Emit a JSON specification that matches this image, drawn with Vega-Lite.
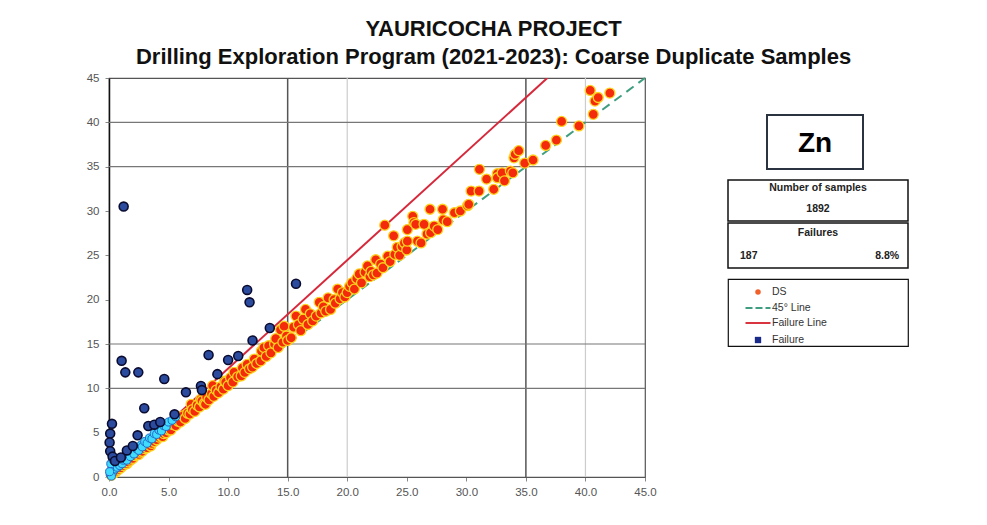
{
  "$schema": "https://vega.github.io/schema/vega-lite/v6.json",
  "background": "white",
  "padding": {"left": 78, "top": 18, "right": 0, "bottom": 0},
  "title": {
    "text": ["YAURICOCHA PROJECT", "Drilling Exploration Program (2021-2023): Coarse Duplicate Samples"],
    "anchor": "middle",
    "frame": "bounds",
    "font": "Liberation Sans",
    "fontSize": 22,
    "fontWeight": "bold",
    "color": "#111111",
    "lineHeight": 28,
    "offset": 2
  },
  "config": {
    "font": "Liberation Sans",
    "concat": {"spacing": 0}
  },
  "datasets": {
    "samples": [
      {"original":0.2,"duplicate":0.2,"status":"DS"},{"original":0.4,"duplicate":0.45,"status":"DS"},{"original":0.5,"duplicate":0.5,"status":"DS"},{"original":0.6,"duplicate":0.65,"status":"DS"},{"original":0.8,"duplicate":0.85,"status":"DS"},{"original":1.0,"duplicate":1.05,"status":"DS"},{"original":1.2,"duplicate":1.3,"status":"DS"},{"original":1.4,"duplicate":1.5,"status":"DS"},{"original":1.5,"duplicate":1.5,"status":"DS"},{"original":1.6,"duplicate":1.7,"status":"DS"},{"original":1.8,"duplicate":1.9,"status":"DS"},{"original":2.0,"duplicate":2.1,"status":"DS"},{"original":2.2,"duplicate":2.4,"status":"DS"},{"original":2.4,"duplicate":2.5,"status":"DS"},{"original":2.5,"duplicate":2.55,"status":"DS"},{"original":2.6,"duplicate":2.8,"status":"DS"},{"original":2.8,"duplicate":2.9,"status":"DS"},{"original":3.0,"duplicate":3.2,"status":"DS"},{"original":3.2,"duplicate":3.3,"status":"DS"},{"original":3.4,"duplicate":3.6,"status":"DS"},{"original":3.5,"duplicate":3.5,"status":"DS"},{"original":3.6,"duplicate":3.8,"status":"DS"},{"original":3.8,"duplicate":4.0,"status":"DS"},{"original":4.0,"duplicate":4.2,"status":"DS"},{"original":4.2,"duplicate":4.5,"status":"DS"},{"original":4.4,"duplicate":4.6,"status":"DS"},{"original":4.5,"duplicate":4.55,"status":"DS"},{"original":4.6,"duplicate":4.9,"status":"DS"},{"original":4.8,"duplicate":5.0,"status":"DS"},{"original":5.0,"duplicate":5.3,"status":"DS"},
      {"original":5.2,"duplicate":5.3,"status":"DS"},{"original":5.4,"duplicate":5.9,"status":"DS"},{"original":5.6,"duplicate":5.8,"status":"DS"},{"original":5.8,"duplicate":6.3,"status":"DS"},{"original":6.0,"duplicate":6.2,"status":"DS"},{"original":6.2,"duplicate":6.9,"status":"DS"},{"original":6.4,"duplicate":6.6,"status":"DS"},{"original":6.6,"duplicate":7.2,"status":"DS"},{"original":6.8,"duplicate":7.1,"status":"DS"},{"original":6.9,"duplicate":8.2,"status":"DS"},{"original":7.0,"duplicate":7.6,"status":"DS"},{"original":7.2,"duplicate":7.4,"status":"DS"},{"original":7.4,"duplicate":8.1,"status":"DS"},{"original":7.6,"duplicate":7.9,"status":"DS"},{"original":7.7,"duplicate":8.75,"status":"DS"},{"original":7.8,"duplicate":8.6,"status":"DS"},{"original":8.0,"duplicate":8.3,"status":"DS"},{"original":8.1,"duplicate":8.2,"status":"DS"},{"original":8.2,"duplicate":9.0,"status":"DS"},{"original":8.4,"duplicate":8.7,"status":"DS"},{"original":8.6,"duplicate":9.4,"status":"DS"},{"original":8.7,"duplicate":10.3,"status":"DS"},{"original":8.8,"duplicate":9.1,"status":"DS"},{"original":9.0,"duplicate":9.8,"status":"DS"},{"original":9.2,"duplicate":9.5,"status":"DS"},{"original":9.4,"duplicate":10.2,"status":"DS"},{"original":9.6,"duplicate":9.9,"status":"DS"},{"original":9.7,"duplicate":10.8,"status":"DS"},{"original":9.8,"duplicate":10.7,"status":"DS"},{"original":10.0,"duplicate":10.3,"status":"DS"},
      {"original":10.2,"duplicate":11.2,"status":"DS"},{"original":10.4,"duplicate":10.7,"status":"DS"},{"original":10.5,"duplicate":11.8,"status":"DS"},{"original":10.8,"duplicate":11.3,"status":"DS"},{"original":11.1,"duplicate":11.4,"status":"DS"},{"original":11.2,"duplicate":12.3,"status":"DS"},{"original":11.4,"duplicate":11.8,"status":"DS"},{"original":11.6,"duplicate":12.7,"status":"DS"},{"original":11.8,"duplicate":12.2,"status":"DS"},{"original":12.05,"duplicate":12.4,"status":"DS"},{"original":12.2,"duplicate":13.3,"status":"DS"},{"original":12.4,"duplicate":12.8,"status":"DS"},{"original":12.75,"duplicate":13.1,"status":"DS"},{"original":12.8,"duplicate":14.2,"status":"DS"},{"original":13.0,"duplicate":14.6,"status":"DS"},{"original":13.2,"duplicate":13.6,"status":"DS"},{"original":13.4,"duplicate":14.8,"status":"DS"},{"original":13.6,"duplicate":14.0,"status":"DS"},{"original":13.9,"duplicate":15.0,"status":"DS"},{"original":14.0,"duplicate":15.6,"status":"DS"},{"original":14.2,"duplicate":14.6,"status":"DS"},{"original":14.4,"duplicate":16.6,"status":"DS"},{"original":14.6,"duplicate":15.2,"status":"DS"},{"original":14.7,"duplicate":17.0,"status":"DS"},{"original":14.9,"duplicate":15.9,"status":"DS"},{"original":15.0,"duplicate":15.4,"status":"DS"},
      {"original":15.3,"duplicate":15.7,"status":"DS"},{"original":15.5,"duplicate":16.9,"status":"DS"},{"original":15.7,"duplicate":18.15,"status":"DS"},{"original":15.9,"duplicate":17.2,"status":"DS"},{"original":16.1,"duplicate":16.5,"status":"DS"},{"original":16.3,"duplicate":17.8,"status":"DS"},{"original":16.5,"duplicate":18.9,"status":"DS"},{"original":16.7,"duplicate":17.2,"status":"DS"},{"original":16.9,"duplicate":18.4,"status":"DS"},{"original":17.1,"duplicate":17.6,"status":"DS"},{"original":17.4,"duplicate":18.15,"status":"DS"},{"original":17.65,"duplicate":19.7,"status":"DS"},{"original":17.8,"duplicate":18.5,"status":"DS"},{"original":18.0,"duplicate":19.2,"status":"DS"},{"original":18.2,"duplicate":18.7,"status":"DS"},{"original":18.4,"duplicate":20.2,"status":"DS"},{"original":18.6,"duplicate":18.9,"status":"DS"},{"original":18.9,"duplicate":20.0,"status":"DS"},{"original":19.0,"duplicate":19.6,"status":"DS"},{"original":19.2,"duplicate":21.2,"status":"DS"},{"original":19.4,"duplicate":20.1,"status":"DS"},{"original":19.6,"duplicate":20.8,"status":"DS"},{"original":19.8,"duplicate":20.3,"status":"DS"},{"original":20.0,"duplicate":20.8,"status":"DS"},{"original":20.2,"duplicate":21.5,"status":"DS"},
      {"original":20.4,"duplicate":21.9,"status":"DS"},{"original":20.6,"duplicate":21.2,"status":"DS"},{"original":20.8,"duplicate":22.4,"status":"DS"},{"original":21.0,"duplicate":22.9,"status":"DS"},{"original":21.2,"duplicate":21.9,"status":"DS"},{"original":21.5,"duplicate":23.1,"status":"DS"},{"original":21.7,"duplicate":23.8,"status":"DS"},{"original":21.9,"duplicate":22.6,"status":"DS"},{"original":22.0,"duplicate":23.2,"status":"DS"},{"original":22.2,"duplicate":22.8,"status":"DS"},{"original":22.4,"duplicate":24.5,"status":"DS"},{"original":22.5,"duplicate":23.0,"status":"DS"},{"original":22.8,"duplicate":24.0,"status":"DS"},{"original":23.0,"duplicate":23.6,"status":"DS"},{"original":23.15,"duplicate":28.4,"status":"DS"},{"original":23.4,"duplicate":24.9,"status":"DS"},{"original":23.6,"duplicate":24.3,"status":"DS"},{"original":23.9,"duplicate":27.2,"status":"DS"},{"original":24.0,"duplicate":25.1,"status":"DS"},{"original":24.2,"duplicate":25.9,"status":"DS"},{"original":24.4,"duplicate":25.0,"status":"DS"},{"original":24.6,"duplicate":26.0,"status":"DS"},{"original":24.8,"duplicate":26.4,"status":"DS"},{"original":25.0,"duplicate":25.6,"status":"DS"},
      {"original":25.05,"duplicate":27.9,"status":"DS"},{"original":25.05,"duplicate":26.6,"status":"DS"},{"original":25.5,"duplicate":29.4,"status":"DS"},{"original":25.6,"duplicate":28.7,"status":"DS"},{"original":25.75,"duplicate":28.5,"status":"DS"},{"original":25.9,"duplicate":26.6,"status":"DS"},{"original":26.2,"duplicate":26.4,"status":"DS"},{"original":26.45,"duplicate":28.5,"status":"DS"},{"original":26.7,"duplicate":27.4,"status":"DS"},{"original":26.95,"duplicate":30.2,"status":"DS"},{"original":27.0,"duplicate":27.55,"status":"DS"},{"original":27.3,"duplicate":28.3,"status":"DS"},{"original":27.6,"duplicate":27.9,"status":"DS"},{"original":28.0,"duplicate":30.2,"status":"DS"},{"original":28.06,"duplicate":29.0,"status":"DS"},{"original":28.4,"duplicate":28.8,"status":"DS"},{"original":29.0,"duplicate":29.8,"status":"DS"},{"original":29.5,"duplicate":30.0,"status":"DS"},{"original":30.1,"duplicate":30.6,"status":"DS"},
      {"original":30.2,"duplicate":30.75,"status":"DS"},{"original":30.4,"duplicate":32.25,"status":"DS"},{"original":31.07,"duplicate":32.25,"status":"DS"},{"original":31.1,"duplicate":34.7,"status":"DS"},{"original":31.7,"duplicate":33.6,"status":"DS"},{"original":32.3,"duplicate":32.45,"status":"DS"},{"original":32.6,"duplicate":34.2,"status":"DS"},{"original":32.6,"duplicate":33.75,"status":"DS"},{"original":33.0,"duplicate":34.3,"status":"DS"},{"original":33.2,"duplicate":33.4,"status":"DS"},{"original":33.7,"duplicate":34.5,"status":"DS"},{"original":33.9,"duplicate":34.3,"status":"DS"},{"original":34.0,"duplicate":36.0,"status":"DS"},{"original":34.1,"duplicate":36.4,"status":"DS"},{"original":34.4,"duplicate":36.8,"status":"DS"},{"original":34.9,"duplicate":35.4,"status":"DS"},
      {"original":35.6,"duplicate":35.75,"status":"DS"},{"original":36.66,"duplicate":37.4,"status":"DS"},{"original":37.56,"duplicate":38.0,"status":"DS"},{"original":38.0,"duplicate":40.1,"status":"DS"},{"original":39.45,"duplicate":39.6,"status":"DS"},{"original":40.66,"duplicate":40.9,"status":"DS"},{"original":40.8,"duplicate":42.4,"status":"DS"},{"original":41.07,"duplicate":42.8,"status":"DS"},{"original":40.4,"duplicate":43.6,"status":"DS"},{"original":42.05,"duplicate":43.3,"status":"DS"},
      {"original":0.1,"duplicate":0.3,"status":"Failure (low)"},{"original":0.2,"duplicate":0.8,"status":"Failure (low)"},{"original":0.3,"duplicate":0.5,"status":"Failure (low)"},{"original":0.4,"duplicate":1.2,"status":"Failure (low)"},{"original":0.5,"duplicate":0.9,"status":"Failure (low)"},{"original":0.6,"duplicate":1.5,"status":"Failure (low)"},{"original":0.7,"duplicate":1.1,"status":"Failure (low)"},{"original":0.8,"duplicate":1.8,"status":"Failure (low)"},{"original":0.9,"duplicate":1.3,"status":"Failure (low)"},{"original":1.0,"duplicate":2.0,"status":"Failure (low)"},{"original":1.1,"duplicate":1.5,"status":"Failure (low)"},{"original":1.2,"duplicate":1.9,"status":"Failure (low)"},{"original":1.4,"duplicate":2.3,"status":"Failure (low)"},{"original":1.5,"duplicate":1.9,"status":"Failure (low)"},{"original":1.7,"duplicate":2.6,"status":"Failure (low)"},{"original":1.8,"duplicate":2.3,"status":"Failure (low)"},{"original":2.0,"duplicate":2.9,"status":"Failure (low)"},{"original":2.1,"duplicate":2.6,"status":"Failure (low)"},{"original":2.3,"duplicate":3.2,"status":"Failure (low)"},{"original":2.5,"duplicate":3.0,"status":"Failure (low)"},{"original":2.7,"duplicate":3.6,"status":"Failure (low)"},{"original":2.8,"duplicate":3.4,"status":"Failure (low)"},{"original":3.0,"duplicate":4.0,"status":"Failure (low)"},{"original":3.2,"duplicate":3.8,"status":"Failure (low)"},{"original":3.4,"duplicate":4.4,"status":"Failure (low)"},{"original":3.6,"duplicate":4.3,"status":"Failure (low)"},{"original":3.8,"duplicate":4.9,"status":"Failure (low)"},{"original":4.0,"duplicate":4.8,"status":"Failure (low)"},{"original":4.2,"duplicate":5.3,"status":"Failure (low)"},{"original":4.4,"duplicate":5.2,"status":"Failure (low)"},{"original":4.6,"duplicate":5.8,"status":"Failure (low)"},{"original":4.8,"duplicate":5.7,"status":"Failure (low)"},{"original":5.0,"duplicate":6.2,"status":"Failure (low)"},{"original":5.3,"duplicate":6.4,"status":"Failure (low)"},{"original":5.6,"duplicate":6.8,"status":"Failure (low)"},{"original":0.15,"duplicate":1.5,"status":"Failure (low)"},{"original":0.3,"duplicate":2.0,"status":"Failure (low)"},{"original":0.2,"duplicate":0.1,"status":"Failure (low)"},{"original":0.05,"duplicate":0.6,"status":"Failure (low)"},
      {"original":1.23,"duplicate":30.5,"status":"Failure"},{"original":1.06,"duplicate":13.1,"status":"Failure"},{"original":1.37,"duplicate":11.8,"status":"Failure"},{"original":2.46,"duplicate":11.8,"status":"Failure"},{"original":4.64,"duplicate":11.05,"status":"Failure"},{"original":2.96,"duplicate":7.75,"status":"Failure"},{"original":0.25,"duplicate":6.0,"status":"Failure"},{"original":0.1,"duplicate":4.9,"status":"Failure"},{"original":0.05,"duplicate":3.9,"status":"Failure"},{"original":0.1,"duplicate":2.9,"status":"Failure"},{"original":0.3,"duplicate":2.3,"status":"Failure"},{"original":2.4,"duplicate":4.7,"status":"Failure"},{"original":3.3,"duplicate":5.75,"status":"Failure"},{"original":5.5,"duplicate":7.07,"status":"Failure"},{"original":6.46,"duplicate":9.55,"status":"Failure"},{"original":7.72,"duplicate":10.26,"status":"Failure"},{"original":7.8,"duplicate":9.8,"status":"Failure"},{"original":8.36,"duplicate":13.76,"status":"Failure"},{"original":9.1,"duplicate":11.6,"status":"Failure"},{"original":10.0,"duplicate":13.2,"status":"Failure"},{"original":10.85,"duplicate":13.65,"status":"Failure"},{"original":11.6,"duplicate":21.1,"status":"Failure"},{"original":11.8,"duplicate":19.7,"status":"Failure"},{"original":12.05,"duplicate":15.4,"status":"Failure"},{"original":13.5,"duplicate":16.8,"status":"Failure"},{"original":15.7,"duplicate":21.8,"status":"Failure"},{"original":1.5,"duplicate":3.0,"status":"Failure"},{"original":2.0,"duplicate":3.5,"status":"Failure"},{"original":3.8,"duplicate":5.9,"status":"Failure"},{"original":4.3,"duplicate":6.2,"status":"Failure"},{"original":0.5,"duplicate":1.8,"status":"Failure"},{"original":1.0,"duplicate":2.2,"status":"Failure"}
    ],
    "reflines": [
      {"line":"45° Line","original":0,"duplicate":0},{"line":"45° Line","original":45,"duplicate":45},
      {"line":"Failure Line","original":0,"duplicate":0},{"line":"Failure Line","original":36.8,"duplicate":45}
    ],
    "stats": [
      {"section":"samples","line":1,"pos":"center","text":"Number of samples"},
      {"section":"samples","line":2,"pos":"center","text":"1892"},
      {"section":"failures","line":1,"pos":"center","text":"Failures"},
      {"section":"failures","line":2,"pos":"left","text":"187"},
      {"section":"failures","line":2,"pos":"right","text":"8.8%"}
    ],
    "legendItems": [
      {"series":"DS"},{"series":"45° Line"},{"series":"Failure Line"},{"series":"Failure"}
    ]
  },
  "hconcat": [
    {
      "width": 536,
      "height": 399,
      "view": {"stroke": "#555555", "strokeWidth": 1.2},
      "layer": [
        {
          "data": {"values": [{"at": 20}, {"at": 40}]},
          "mark": {"type": "rule", "color": "#cccccc", "strokeWidth": 1.2},
          "encoding": {"x": {"field": "at", "type": "quantitative", "scale": {"domain": [0, 45], "nice": false, "zero": false}}}
        },
        {
          "data": {"values": [{"at": 15}, {"at": 35}]},
          "mark": {"type": "rule", "color": "#555555", "strokeWidth": 1.5},
          "encoding": {"x": {"field": "at", "type": "quantitative"}}
        },
        {
          "data": {"values": [{"at": 10}, {"at": 15}, {"at": 35}, {"at": 40}]},
          "mark": {"type": "rule", "color": "#777777", "strokeWidth": 1.2},
          "encoding": {"y": {"field": "at", "type": "quantitative", "scale": {"domain": [0, 45], "nice": false, "zero": false}}}
        },
        {
          "data": {"name": "reflines"},
          "transform": [{"filter": "datum.line === '45° Line'"}],
          "mark": {"type": "line", "color": "#3f9e80", "strokeWidth": 2, "strokeDash": [9, 6]},
          "encoding": {
            "x": {"field": "original", "type": "quantitative"},
            "y": {"field": "duplicate", "type": "quantitative"}
          }
        },
        {
          "data": {"name": "reflines"},
          "transform": [{"filter": "datum.line === 'Failure Line'"}],
          "mark": {"type": "line", "color": "#d6283a", "strokeWidth": 2, "clip": true},
          "encoding": {
            "x": {"field": "original", "type": "quantitative"},
            "y": {"field": "duplicate", "type": "quantitative"}
          }
        },
        {
          "data": {"name": "samples"},
          "transform": [{"filter": "datum.status === 'DS'"}],
          "mark": {"type": "point", "shape": "circle", "filled": true, "size": 100, "fill": "#f42a0c", "stroke": "#ffd21f", "strokeWidth": 1.3, "opacity": 1},
          "encoding": {
            "x": {"field": "original", "type": "quantitative", "title": null,
              "axis": {"values": [0,2.5,5,7.5,10,12.5,15,17.5,20,22.5,25,27.5,30,32.5,35,37.5,40,42.5,45],
                "labelExpr": "datum.value % 5 === 0 ? format(datum.value, '.1f') : ''",
                "grid": false, "domainColor": "#555555", "tickColor": "#888888", "tickSize": 4,
                "labelColor": "#555555", "labelFontSize": 11.5, "labelPadding": 5, "labelFlush": false}},
            "y": {"field": "duplicate", "type": "quantitative", "title": null,
              "axis": {"values": [0,2.5,5,7.5,10,12.5,15,17.5,20,22.5,25,27.5,30,32.5,35,37.5,40,42.5,45],
                "labelExpr": "datum.value % 5 === 0 ? format(datum.value, '.0f') : ''",
                "grid": false, "domainColor": "#111111", "domainWidth": 1.5, "tickColor": "#888888", "tickSize": 4,
                "labelColor": "#555555", "labelFontSize": 11.5, "labelPadding": 6, "labelFlush": false,
                "minExtent": 30, "maxExtent": 30}}
          }
        },
        {
          "data": {"name": "samples"},
          "transform": [{"filter": "datum.status === 'Failure (low)'"}],
          "mark": {"type": "point", "shape": "circle", "filled": true, "size": 65, "fill": "#3fdcff", "stroke": "#2468c8", "strokeWidth": 1, "opacity": 1},
          "encoding": {
            "x": {"field": "original", "type": "quantitative"},
            "y": {"field": "duplicate", "type": "quantitative"}
          }
        },
        {
          "data": {"name": "samples"},
          "transform": [{"filter": "datum.status === 'Failure'"}],
          "mark": {"type": "point", "shape": "circle", "filled": true, "size": 80, "fill": "#2b4c9e", "stroke": "#0b0b30", "strokeWidth": 1.6, "opacity": 1},
          "encoding": {
            "x": {"field": "original", "type": "quantitative"},
            "y": {"field": "duplicate", "type": "quantitative"}
          }
        }
      ]
    },
    {
      "data": {"values": [{}]},
      "width": 70,
      "height": 10,
      "view": {"stroke": null},
      "mark": {"type": "text", "text": ""}
    },
    {
      "vconcat": [
        {
          "data": {"values": [{}]},
          "width": 180,
          "height": 27,
          "view": {"stroke": null},
          "mark": {"type": "text", "text": ""}
        },
        {
          "hconcat": [
            {
              "data": {"values": [{}]},
              "width": 38, "height": 54,
              "view": {"stroke": null},
              "mark": {"type": "text", "text": ""}
            },
            {
              "data": {"values": [{"element": "Zn"}]},
              "width": 96,
              "height": 54,
              "view": {"stroke": "#2b3340", "strokeWidth": 2},
              "mark": {"type": "text", "fontSize": 28, "fontWeight": "bold", "color": "#000000", "baseline": "middle", "dy": 2},
              "encoding": {"text": {"field": "element"}}
            }
          ]
        },
        {
          "vconcat": [
            {
              "data": {"name": "stats"},
              "transform": [{"filter": "datum.section === 'samples'"}],
              "width": 180,
              "height": 41,
              "view": {"stroke": "#111111", "strokeWidth": 1.5},
              "mark": {"type": "text", "fontSize": 10.5, "fontWeight": "bold", "color": "#222222", "baseline": "middle", "dy": -2},
              "encoding": {
                "x": {"field": "pos", "type": "nominal", "scale": {"type": "point", "domain": ["left", "center", "right"], "padding": 0.3}, "axis": null},
                "y": {"field": "line", "type": "ordinal", "scale": {"type": "point", "padding": 0.5}, "axis": null},
                "text": {"field": "text"}
              }
            },
            {
              "data": {"name": "stats"},
              "transform": [{"filter": "datum.section === 'failures'"}],
              "width": 180,
              "height": 45,
              "view": {"stroke": "#111111", "strokeWidth": 1.5},
              "mark": {"type": "text", "fontSize": 10.5, "fontWeight": "bold", "color": "#222222", "baseline": "middle", "dy": -1},
              "encoding": {
                "x": {"field": "pos", "type": "nominal", "scale": {"type": "point", "domain": ["left", "center", "right"], "padding": 0.3}, "axis": null},
                "y": {"field": "line", "type": "ordinal", "scale": {"type": "point", "padding": 0.5}, "axis": null},
                "text": {"field": "text"}
              }
            }
          ],
          "spacing": 0,
          "resolve": {"scale": {"x": "independent", "y": "independent"}}
        },
        {
          "data": {"name": "legendItems"},
          "width": 180,
          "height": 67,
          "view": {"stroke": "#111111", "strokeWidth": 1.2},
          "mark": {"type": "point", "filled": true, "opacity": 0},
          "encoding": {
            "color": {
              "field": "series", "type": "nominal",
              "scale": {"domain": ["DS", "45° Line", "Failure Line", "Failure"], "range": ["#f0602a", "#3f9e80", "#d9343f", "#1a2a8a"]},
              "legend": {
                "title": null,
                "orient": "none",
                "legendX": 24,
                "legendY": 7,
                "padding": 0,
                "symbolSize": 100,
                "rowPadding": 3,
                "labelOffset": 8,
                "labelFont": "Liberation Sans",
                "labelFontSize": 10.5,
                "labelColor": "#333333",
                "symbolOpacity": 1,
                "encode": {
                  "symbols": {
                    "update": {
                      "shape": {"signal": "datum.value === 'DS' ? 'circle' : datum.value === 'Failure' ? 'square' : 'M-2.5,0H2.5'"},
                      "size": {"signal": "datum.value === 'DS' ? 30 : datum.value === 'Failure' ? 40 : 100"},
                      "fill": {"signal": "datum.value === 'DS' ? '#f0602a' : datum.value === 'Failure' ? '#1a2a8a' : 'transparent'"},
                      "stroke": {"signal": "datum.value === '45° Line' ? '#3f9e80' : datum.value === 'Failure Line' ? '#d9343f' : 'transparent'"},
                      "strokeWidth": {"value": 2},
                      "strokeDash": {"signal": "datum.value === '45° Line' ? [7, 3] : [1, 0]"},
                      "opacity": {"value": 1}
                    }
                  }
                }
              }
            }
          }
        }
      ],
      "spacing": 9,
      "resolve": {"scale": {"color": "independent", "x": "independent", "y": "independent"}, "legend": {"color": "independent"}}
    }
  ],
  "resolve": {"scale": {"color": "independent", "x": "independent", "y": "independent"}, "legend": {"color": "independent"}}
}
